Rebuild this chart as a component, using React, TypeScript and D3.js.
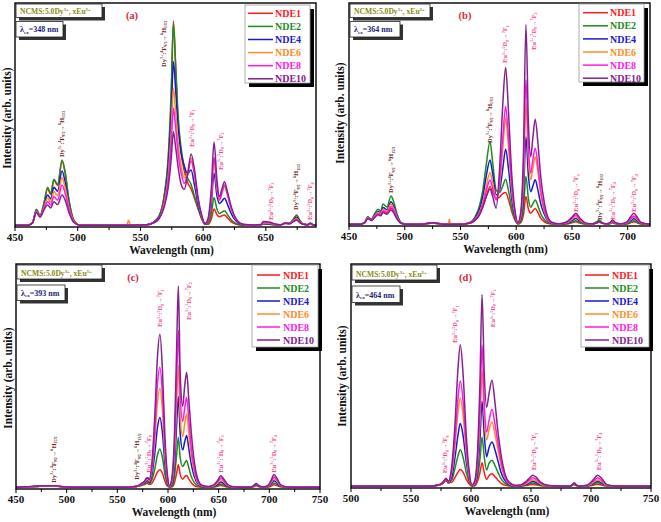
import React from 'react';
import * as d3 from 'd3';

const NAMES = ['NDE1', 'NDE2', 'NDE4', 'NDE6', 'NDE8', 'NDE10'];
const COLORS = ['#ff1a1a', '#1e8c1e', '#1a1acd', '#ff8c26', '#ff1ae6', '#85218f'];

// ---------- panel (a) λex = 348 nm ----------
const WL_A = [450, 460, 464, 467, 470, 473, 476, 478.5, 481, 484, 487.5, 490, 493, 497, 502, 520, 539, 540.5, 542, 555, 560, 565, 569, 572, 574.5, 576.3, 578, 580, 582.5, 585, 587.5, 590.4, 593, 596, 599, 601.5, 604, 606.5, 608.7, 611, 613, 615, 617, 619.5, 622, 625, 628, 632, 640, 646, 648, 652.5, 657, 662, 665.5, 669, 672, 674.5, 677, 680, 683, 685.5, 688, 690];
const A_NDE1 = [0.8, 0.8, 2.0, 7.5, 5.0, 10, 17, 14.5, 21, 18.5, 29.5, 24, 12, 3, 0.8, 0.8, 0.8, 0.8, 0.8, 1, 2, 5, 14, 28, 55, 92, 72, 48, 33, 25, 20, 17, 13, 8, 3.5, 1.2, 1.2, 3.5, 8, 5.5, 4.6, 5, 5.4, 4, 2.5, 1.5, 1, 0.8, 0.8, 0.9, 1.3, 1.2, 1, 1, 1.8, 1.6, 3.5, 5.4, 3, 1.2, 1, 1.2, 0.9, 0.8];
const A_NDE2 = [0.8, 0.8, 2.0, 7.9, 5.2, 10.5, 17.7, 15, 21.3, 19, 29.9, 24.5, 12, 3, 0.8, 0.8, 0.8, 0.8, 0.8, 1, 2, 5, 14, 30, 60, 91, 74, 50, 35, 27, 22, 19, 14, 8.5, 3.5, 1.2, 1.5, 5.5, 13.2, 8, 6, 6.6, 7.3, 5.5, 3.5, 2, 1.2, 0.8, 0.8, 0.9, 1.4, 1.3, 1, 1, 1.9, 1.7, 3.6, 5.3, 3, 1.2, 1, 1.3, 0.9, 0.8];
const A_NDE4 = [0.8, 0.8, 1.9, 7.3, 5, 9, 14.3, 12.5, 17.7, 16, 25, 20, 10, 2.5, 0.8, 0.8, 0.8, 0.8, 0.8, 1, 2, 4.5, 12, 26, 50, 73.8, 62, 45, 33, 27, 24, 25.4, 19, 10, 4, 1.3, 2.5, 10, 24, 14, 10.5, 11.5, 12.8, 10, 6.5, 3.5, 1.8, 1, 0.8, 1, 1.6, 1.5, 1.1, 1, 1.9, 1.7, 3, 4.3, 2.5, 1.2, 1, 1.4, 0.9, 0.8];
const A_NDE6 = [0.8, 0.8, 1.8, 7, 4.8, 8.5, 12.8, 11, 15.8, 14, 22, 17.5, 9, 2.5, 0.8, 0.8, 0.8, 3, 0.8, 1, 1.8, 4, 11, 22, 42, 61.9, 52, 38, 27, 22, 24, 30.7, 24, 12, 4.5, 1.4, 3, 13, 30, 17, 12, 15, 18, 14, 9, 4.5, 2.2, 1.1, 0.8, 1, 1.8, 1.7, 1.2, 1, 1.8, 1.6, 2.8, 3.8, 2.3, 1.2, 1, 1.5, 0.9, 0.8];
const A_NDE8 = [0.8, 0.8, 1.8, 6.8, 4.6, 8, 11.3, 9.8, 13.5, 12, 18.7, 15, 8, 2.2, 0.8, 0.8, 0.8, 0.8, 0.8, 1, 1.8, 4, 10, 20, 37, 53, 45, 33, 24, 19.5, 23, 29.5, 24, 12, 4.5, 1.4, 3.2, 14, 31, 18, 12, 15.5, 18.8, 14.5, 9, 4.5, 2.2, 1.1, 0.8, 1, 2, 1.9, 1.3, 1, 1.7, 1.5, 2.6, 3.4, 2.1, 1.2, 1, 1.6, 0.9, 0.8];
const A_NDE10 = [0.8, 0.8, 1.7, 6.5, 4.4, 7.5, 9.8, 8.5, 11.3, 10, 14.3, 12, 6.5, 2, 0.8, 0.8, 0.8, 0.8, 0.8, 1, 1.7, 3.8, 9, 17, 30, 42.5, 36, 27, 19, 16.8, 23, 32.6, 26, 13, 5, 1.5, 4, 17, 38, 21, 13.5, 17, 20.2, 15.5, 10, 5, 2.4, 1.2, 0.9, 1.1, 2.4, 2.2, 1.4, 1, 1.6, 1.4, 2.4, 3.1, 2, 1.2, 1, 1.8, 0.9, 0.8];

// ---------- panel (b) λex = 364 nm ----------
const WL_B = [450, 460, 464, 467, 470, 473, 476, 478.5, 480.5, 484, 487.7, 490, 493, 497, 502, 515, 525, 535, 539, 540, 541, 550, 558, 563, 567, 570, 573, 576.5, 579, 582, 585, 588, 590.5, 593, 596, 599, 601.5, 604, 606.5, 608.7, 611, 613, 615, 617, 619.5, 622, 625, 628, 632, 638, 645, 650, 653.5, 657, 662, 668, 672, 674.5, 677, 681, 684, 686.5, 689, 694, 699, 702.5, 705.5, 708.5, 712, 720];
const B_NDE1 = [0.8, 0.8, 1.5, 3.5, 2.5, 4, 5.5, 5, 6.5, 5.5, 8, 6.5, 3.5, 1.2, 0.8, 0.8, 1.4, 0.8, 0.8, 0.8, 0.8, 0.8, 1.2, 2.5, 5, 8.5, 13, 17.6, 15, 12.5, 13, 14.5, 15, 12, 6.5, 2.5, 0.9, 1.5, 5, 13.2, 7.5, 5.7, 6.8, 7.9, 6, 3.5, 2, 1.2, 0.9, 0.8, 0.9, 1.4, 1.9, 1.3, 0.9, 0.9, 1.3, 1.8, 1.2, 0.9, 1, 1.5, 1, 0.8, 0.9, 1.4, 1.9, 1.4, 0.9, 0.8];
const B_NDE2 = [0.8, 0.8, 1.7, 4.2, 3, 5.5, 7.5, 6.8, 9.9, 8.5, 13.5, 11, 5.5, 1.5, 0.8, 0.8, 1.4, 0.8, 0.8, 0.8, 0.8, 0.8, 1.5, 4, 9, 16, 27, 37.9, 28, 16, 15, 18, 21, 16, 8, 3, 1, 2, 8, 22.2, 12, 8.4, 10, 11.7, 9, 5.5, 3, 1.6, 1, 0.8, 1, 1.7, 2.4, 1.6, 1, 1, 1.8, 2.7, 1.6, 1, 1, 1.7, 1.1, 0.8, 1, 1.7, 2.4, 1.7, 1, 0.8];
const B_NDE4 = [0.8, 0.8, 1.6, 4, 2.8, 5, 6.5, 6, 8.3, 7.3, 10.9, 9, 4.5, 1.3, 0.8, 0.8, 1.4, 0.8, 0.8, 0.8, 0.8, 0.8, 1.4, 3.5, 7.5, 13, 22, 29.6, 23, 14, 16, 26, 34.4, 26, 12, 4, 1.2, 3, 14, 40, 22, 15.4, 18, 20.7, 16, 10, 5.5, 2.5, 1.2, 0.9, 1.2, 2.4, 3.4, 2.2, 1.1, 0.9, 1.4, 2, 1.3, 1, 1.1, 2, 1.2, 0.9, 1.2, 2.3, 3.3, 2.3, 1.2, 0.8];
const B_NDE6 = [0.8, 0.8, 1.5, 3.8, 2.7, 4.5, 6, 5.5, 7.5, 6.5, 9.9, 8, 4, 1.2, 0.8, 0.8, 1.4, 0.8, 0.8, 3, 0.8, 0.8, 1.3, 3, 6, 10.5, 17.5, 23.9, 19, 12, 18, 35, 48.4, 36, 16, 5, 1.3, 4, 20, 55, 30, 20.7, 26, 31, 24, 14, 7, 3, 1.3, 0.9, 1.4, 3, 4.2, 2.7, 1.2, 0.9, 1.3, 1.9, 1.3, 1, 1.2, 2.2, 1.3, 0.9, 1.4, 2.8, 4, 2.8, 1.3, 0.8];
const B_NDE8 = [0.8, 0.8, 1.5, 3.6, 2.6, 4.2, 5.5, 5, 6.8, 6, 8.7, 7.2, 3.8, 1.2, 0.8, 0.8, 1.4, 0.8, 0.8, 0.8, 0.8, 0.8, 1.3, 2.8, 5.5, 9.5, 15.5, 20.6, 16.5, 11.7, 20, 40, 53.6, 40, 18, 5.5, 1.4, 5, 25, 65.6, 35, 23.7, 30, 34.9, 27, 16, 8, 3.3, 1.4, 0.9, 1.5, 3.5, 4.9, 3.1, 1.3, 0.9, 1.3, 1.9, 1.3, 1, 1.3, 2.4, 1.4, 0.9, 1.5, 3.1, 4.5, 3.1, 1.4, 0.8];
const B_NDE10 = [0.8, 0.8, 1.4, 3.4, 2.5, 3.8, 5, 4.6, 6, 5.3, 7.2, 6, 3.2, 1.1, 0.8, 0.8, 1.5, 0.8, 0.8, 0.8, 0.8, 0.8, 1.2, 2.5, 5, 8.5, 13, 16.5, 13, 8, 25, 55, 71.2, 52, 23, 6.5, 1.5, 6, 33, 90.3, 45, 31.1, 40, 47.9, 37, 22, 11, 4.5, 1.7, 1, 1.8, 4, 5.7, 3.6, 1.4, 1, 1.4, 2, 1.3, 1, 1.5, 2.7, 1.5, 1, 1.7, 4, 5.7, 4, 1.6, 0.8];

// ---------- panel (c) λex = 393 nm ----------
const WL_C = [450, 460, 470, 480, 488, 495, 505, 520, 540, 560, 568, 572, 575, 577, 578.5, 580, 581.5, 584, 587, 589.5, 592, 594.5, 597, 599.5, 601.5, 604, 606.5, 608.5, 610.2, 612, 614.5, 616.5, 618.4, 620.5, 623, 626, 629, 633, 640, 645, 649, 652, 655, 659, 665, 675, 682, 685, 687, 689, 693, 698, 701.5, 704.6, 707.5, 711, 718, 730, 750];
const C_NDE1 = [0.8, 0.9, 1.1, 1.3, 1.3, 1, 0.8, 0.8, 0.8, 0.8, 1, 1.3, 1.8, 2, 2.5, 2.5, 2, 2.5, 5, 7.5, 8.6, 7, 3.5, 1.2, 0.8, 1, 3, 7, 10.8, 6.5, 4.4, 5.5, 6, 4.5, 2.8, 1.5, 1, 0.8, 0.8, 0.9, 1.2, 1.6, 1.3, 0.9, 0.8, 0.8, 0.8, 1.1, 1.5, 1.1, 0.8, 0.8, 1.2, 1.9, 1.5, 1, 0.8, 0.8, 0.8];
const C_NDE2 = [0.8, 0.9, 1.1, 1.4, 1.4, 1, 0.8, 0.8, 0.8, 0.8, 1, 1.4, 2, 2.3, 3, 3, 2.5, 4, 9, 15, 17.8, 14, 6.5, 2, 0.9, 1.5, 6, 15, 23, 14, 10, 11.5, 12.7, 9.5, 5.5, 2.8, 1.5, 1, 0.8, 1, 1.5, 2.2, 1.8, 1, 0.8, 0.8, 0.8, 1.3, 2, 1.3, 0.8, 0.9, 1.6, 2.7, 2, 1.1, 0.8, 0.8, 0.8];
const C_NDE4 = [0.8, 0.9, 1.1, 1.4, 1.4, 1, 0.8, 0.8, 0.8, 0.8, 1.1, 1.5, 2.3, 2.8, 3.5, 3.8, 3, 6, 16, 27, 31.8, 25, 11, 3, 1, 2.5, 11, 28, 41.1, 25, 17.4, 21, 23.8, 18, 11, 5.5, 2.5, 1.2, 0.9, 1.2, 2, 3.1, 2.5, 1.2, 0.8, 0.8, 0.8, 1.5, 2.2, 1.5, 0.9, 1, 2.2, 3.7, 2.8, 1.3, 0.8, 0.8, 0.8];
const C_NDE6 = [0.8, 0.9, 1.1, 1.3, 1.3, 1, 0.8, 0.8, 0.8, 0.8, 1.1, 1.6, 2.5, 3.2, 4, 4.3, 3.5, 8, 22, 38, 44.8, 35, 15, 4, 1.1, 3.5, 16, 38, 55, 33, 23.3, 29, 33.4, 25, 15, 7.5, 3.2, 1.4, 1, 1.4, 2.6, 4.1, 3.2, 1.5, 0.9, 0.8, 0.8, 1.6, 2.3, 1.6, 0.9, 1.1, 2.7, 4.6, 3.4, 1.5, 0.9, 0.8, 0.8];
const C_NDE8 = [0.8, 0.9, 1.2, 1.4, 1.4, 1, 0.8, 0.8, 0.8, 0.8, 1.1, 1.7, 2.7, 3.5, 4.5, 4.9, 4, 9, 26, 46, 54.1, 42, 18, 5, 1.2, 4.5, 20, 48, 70.5, 42, 30, 36, 40.8, 31, 18, 9, 3.8, 1.5, 1, 1.6, 3.2, 4.9, 3.8, 1.7, 0.9, 0.8, 0.8, 1.6, 2.3, 1.6, 0.9, 1.2, 3.1, 5.3, 4, 1.7, 0.9, 0.8, 0.8];
const C_NDE10 = [0.8, 1, 1.3, 1.5, 1.5, 1.1, 0.8, 0.8, 0.8, 0.8, 1.2, 1.8, 2.8, 3.6, 4.7, 5, 4.2, 11, 33, 58, 68.8, 53, 23, 6, 1.4, 5.5, 26, 62, 90.2, 52, 36.7, 46, 51.8, 40, 25, 12, 5, 1.8, 1.1, 1.8, 3.8, 5.9, 4.5, 2, 1, 0.8, 0.8, 1.7, 2.4, 1.7, 0.9, 1.3, 3.6, 6.4, 4.8, 2, 0.9, 0.8, 0.8];

// ---------- panel (d) λex = 464 nm ----------
const WL_D = [500, 520, 540, 560, 568, 572, 575, 577.5, 579.2, 581, 584, 586.5, 589, 591.1, 593.5, 596, 598.5, 600.8, 603, 605.5, 607.5, 609.2, 611, 613, 615, 617.5, 620, 622.5, 625, 628, 632, 637, 642, 646, 649, 651.4, 654, 658, 664, 675, 682, 684, 686, 688, 691, 697, 701.5, 705.5, 709, 713, 720, 735, 750];
const D_NDE1 = [0.8, 0.8, 0.8, 0.8, 0.9, 1.1, 1.5, 2.5, 3.5, 2.2, 2.5, 4.5, 7, 8.3, 7, 4, 1.8, 0.8, 1, 3, 7, 11.3, 7, 3.8, 5.5, 6.4, 5, 3.5, 2.2, 1.3, 0.9, 0.8, 0.9, 1.1, 1.4, 1.6, 1.4, 1, 0.8, 0.8, 0.8, 1, 1.5, 1, 0.8, 0.8, 1.2, 1.7, 1.3, 0.9, 0.8, 0.8, 0.8];
const D_NDE2 = [0.8, 0.8, 0.8, 0.8, 0.9, 1.2, 1.6, 2.7, 3.8, 2.4, 3.5, 8.5, 14, 17.1, 13.5, 7, 2.8, 0.9, 1.3, 5, 13, 22.8, 14, 8, 11, 12.4, 10, 7, 4.2, 2.2, 1.1, 0.8, 0.9, 1.3, 1.8, 2.2, 1.9, 1.2, 0.9, 0.8, 0.8, 1.1, 1.8, 1.1, 0.8, 0.9, 1.5, 2.3, 1.7, 1, 0.8, 0.8, 0.8];
const D_NDE4 = [0.8, 0.8, 0.8, 0.8, 0.9, 1.2, 1.7, 2.9, 4, 2.6, 5, 13, 23, 28.8, 23, 12, 4, 1, 1.6, 8, 22, 38.7, 24, 14, 18, 20.5, 17, 12, 7, 3.5, 1.4, 0.9, 1, 1.6, 2.4, 3, 2.6, 1.5, 1, 0.8, 0.8, 1.2, 2, 1.2, 0.8, 1, 1.9, 3, 2.2, 1.1, 0.8, 0.8, 0.8];
const D_NDE6 = [0.8, 0.8, 0.8, 0.8, 0.9, 1.2, 1.7, 3, 4.1, 2.8, 7, 18, 33, 40.2, 32, 16, 5, 1.1, 2, 11, 30, 52.6, 33, 21.5, 26, 29.5, 24, 17, 10, 5, 1.8, 1, 1.2, 2, 3, 3.7, 3.2, 1.8, 1, 0.8, 0.8, 1.2, 2.1, 1.3, 0.8, 1.1, 2.3, 3.7, 2.7, 1.2, 0.8, 0.8, 0.8];
const D_NDE8 = [0.8, 0.8, 0.8, 0.8, 0.9, 1.2, 1.8, 3.1, 4.2, 2.9, 8, 21, 39, 47.8, 38, 19, 6, 1.2, 2.3, 13, 36, 63.8, 38, 25, 30, 35.2, 28.5, 20, 12, 5.5, 2, 1, 1.3, 2.4, 3.7, 4.6, 4, 2.2, 1.1, 0.8, 0.8, 1.2, 2.1, 1.3, 0.8, 1.2, 2.8, 4.6, 3.3, 1.4, 0.8, 0.8, 0.8];
const D_NDE10 = [0.8, 0.8, 0.8, 0.8, 0.9, 1.3, 1.8, 3.2, 4.3, 3, 10, 27, 52, 64, 50, 24, 7.5, 1.3, 3, 17, 48, 86.4, 52, 36, 42, 48.1, 38, 25, 15, 7, 2.5, 1.2, 1.5, 3, 4.6, 5.7, 5, 2.6, 1.2, 0.8, 0.8, 1.3, 2.2, 1.3, 0.8, 1.3, 3.4, 5.7, 4.2, 1.6, 0.9, 0.8, 0.8];

// ---------- tick labels ----------
const TICKS_A = [450, 500, 550, 600, 650];
const TICKS_B = [450, 500, 550, 600, 650, 700];
const TICKS_C = [450, 500, 550, 600, 650, 700, 750];
const TICKS_D = [500, 550, 600, 650, 700, 750];
const EXCITATION = ['348', '364', '393', '464'];
const PANEL_LABELS = ['(a)', '(b)', '(c)', '(d)'];

type Seg = [string, string?];
const dyLabel = (lo: string): Seg[] => [['Dy'], ['3+', 'sup'], [':'], ['4', 'sup'], ['F'], ['9/2', 'sub'], ['→'], ['6', 'sup'], ['H'], [lo, 'sub']];
const euLabel = (j: string): Seg[] => [['Eu'], ['3+', 'sup'], [':'], ['5', 'sup'], ['D'], ['0', 'sub'], ['→'], ['7', 'sup'], ['F'], [j, 'sub']];

// annotations: [kind, level, wavelength, intensity at text foot]
const ANN_A: [string, string, number, number][] = [
  ['Dy', '15/2', 487.2, 31.2], ['Dy', '13/2', 568.3, 71.4], ['Eu', '1', 590.9, 35.7], ['Eu', '2', 614, 25.4],
  ['Eu', '3', 653.9, 3.1], ['Dy', '11/2', 674.1, 7.6], ['Eu', '4', 685.2, 3.1]];
const ANN_B: [string, string, number, number][] = [
  ['Dy', '15/2', 487.7, 14.8], ['Dy', '13/2', 575.8, 37.2], ['Eu', '1', 589.9, 73.1], ['Eu', '2', 615.3, 78.9],
  ['Eu', '3', 653.6, 6.3], ['Dy', '11/2', 674.5, 2.7], ['Eu', '4', 686.5, 2.7], ['Eu', '4', 705.6, 6.3]];
const ANN_C: [string, string, number, number][] = [
  ['Dy', '15/2', 486.8, 2.8], ['Dy', '13/2', 569.2, 4.1], ['Eu', '0', 580.9, 7.2], ['Eu', '1', 592.1, 72],
  ['Eu', '2', 620, 75.1], ['Eu', '3', 652, 7.2], ['Eu', '4', 704, 7.2]];
const ANN_D: [string, string, number, number][] = [
  ['Eu', '0', 578.3, 6.6], ['Eu', '1', 586.7, 64.7], ['Eu', '2', 618.1, 71.8], ['Eu', '3', 652.5, 7.9], ['Eu', '4', 706.1, 7.9]];

const FONT = '"Liberation Serif", "Times New Roman", serif';

function renderSegs(segs: Seg[], fs: number) {
  let cur = 0;
  return segs.map((s, i) => {
    const target = s[1] === 'sup' ? -fs * 0.38 : s[1] === 'sub' ? fs * 0.22 : 0;
    const dy = target - cur;
    cur = target;
    return (
      <tspan key={i} dy={dy} fontSize={s[1] ? fs * 0.62 : fs}>{s[0]}</tspan>
    );
  });
}

type Layout = {
  l: number; r: number; t: number; b: number; domain: [number, number]; minorEnd: number;
  legend: { x: number; y: number; w: number; h: number; row0: number; step: number; lx1: number; lx2: number; tx: number };
  box1: [number, number, number, number]; box2: [number, number, number, number];
  labelX: number; yTitleX: number; yTitleY: number;
};

const LAYOUTS: Layout[] = [
  { l: 15, r: 316, t: 3, b: 227, domain: [450, 690], minorEnd: 690,
    legend: { x: 245, y: 5, w: 65, h: 78, row0: 13.3, step: 13.1, lx1: 248, lx2: 273, tx: 275 },
    box1: [16, 4, 86, 13.5], box2: [16, 21.5, 47, 15.5], labelX: 132, yTitleX: 11, yTitleY: 118 },
  { l: 349, r: 650, t: 3, b: 226, domain: [450, 720], minorEnd: 720,
    legend: { x: 579, y: 4, w: 65, h: 78, row0: 12.7, step: 13.1, lx1: 583, lx2: 608, tx: 610 },
    box1: [350, 4, 80, 13.5], box2: [350, 21.5, 50, 15.5], labelX: 465, yTitleX: 344, yTitleY: 113 },
  { l: 16, r: 320, t: 264, b: 489, domain: [450, 750], minorEnd: 750,
    legend: { x: 252, y: 265, w: 66, h: 82, row0: 275, step: 13, lx1: 257, lx2: 280, tx: 283 },
    box1: [17, 265, 85, 14], box2: [17, 285, 48, 15.5], labelX: 133, yTitleX: 12, yTitleY: 378 },
  { l: 351, r: 651, t: 264, b: 488, domain: [500, 750], minorEnd: 750,
    legend: { x: 581, y: 265, w: 68, h: 82, row0: 275, step: 13, lx1: 585, lx2: 609, tx: 612 },
    box1: [352, 265, 85, 15], box2: [352, 286, 48, 16.5], labelX: 465.5, yTitleX: 345.5, yTitleY: 376 },
];

const PANELS = [
  { wl: WL_A, series: [A_NDE1, A_NDE2, A_NDE4, A_NDE6, A_NDE8, A_NDE10], ticks: TICKS_A, ann: ANN_A },
  { wl: WL_B, series: [B_NDE1, B_NDE2, B_NDE4, B_NDE6, B_NDE8, B_NDE10], ticks: TICKS_B, ann: ANN_B },
  { wl: WL_C, series: [C_NDE1, C_NDE2, C_NDE4, C_NDE6, C_NDE8, C_NDE10], ticks: TICKS_C, ann: ANN_C },
  { wl: WL_D, series: [D_NDE1, D_NDE2, D_NDE4, D_NDE6, D_NDE8, D_NDE10], ticks: TICKS_D, ann: ANN_D },
];

function Panel({ idx }: { idx: number }) {
  const L = LAYOUTS[idx];
  const P = PANELS[idx];
  const x = d3.scaleLinear().domain(L.domain).range([L.l, L.r]);
  const y = d3.scaleLinear().domain([0, 100]).range([L.b, L.t]);
  const line = d3.line<[number, number]>().x((d) => x(d[0])).y((d) => y(d[1])).curve(d3.curveMonotoneX);
  const minor = d3.range(L.domain[0], L.minorEnd + 0.01, 25);
  const clipId = `clip-${idx}`;
  const lg = L.legend;
  return (
    <g fontFamily={FONT} fontWeight="bold">
      <defs>
        <clipPath id={clipId}>
          <rect x={L.l} y={L.t} width={L.r - L.l} height={L.b - L.t} />
        </clipPath>
      </defs>
      <g clipPath={`url(#${clipId})`}>
        {P.series.map((s, i) => (
          <path key={i} d={line(P.wl.map((w, k) => [w, s[k]] as [number, number])) || ''}
            fill="none" stroke={COLORS[i]} strokeWidth={1.5} strokeLinejoin="round" />
        ))}
      </g>
      {/* annotations */}
      {P.ann.map((a, i) => {
        const fs = 6.5;
        const segs = a[0] === 'Dy' ? dyLabel(a[1]) : euLabel(a[1]);
        const cx = x(a[2]) + fs * 0.35;
        const cy = y(a[3]);
        return (
          <text key={i} transform={`translate(${cx},${cy}) rotate(-90)`} fontSize={fs}
            fill={a[0] === 'Dy' ? '#6e1e1e' : '#f0468c'}>
            {renderSegs(segs, fs)}
          </text>
        );
      })}
      {/* frame */}
      <rect x={L.l} y={L.t} width={L.r - L.l} height={L.b - L.t} fill="none" stroke="#000" strokeWidth={1.4} />
      {/* ticks */}
      {minor.map((t) => (
        <line key={t} x1={x(t)} x2={x(t)} y1={L.b} y2={L.b + (t % 50 === 0 ? 4 : 3)} stroke="#000" strokeWidth={1} />
      ))}
      {P.ticks.map((t) => (
        <text key={t} x={x(t)} y={L.b + 13.5} fontSize={11} textAnchor="middle" fill="#111">{t}</text>
      ))}
      <text x={(L.l + L.r) / 2 + 6} y={L.b + 26.5} fontSize={11.5} textAnchor="middle" fill="#111">Wavelength (nm)</text>
      <text transform={`translate(${L.yTitleX},${L.yTitleY}) rotate(-90)`} fontSize={11.5} textAnchor="middle" fill="#111">
        Intensity (arb. units)
      </text>
      {/* info boxes */}
      <rect x={L.box1[0] + 3} y={L.box1[1] + 3} width={L.box1[2]} height={L.box1[3]} fill="#333" />
      <rect x={L.box1[0]} y={L.box1[1]} width={L.box1[2]} height={L.box1[3]} fill="#fff" stroke="#222" strokeWidth={0.8} />
      <text x={L.box1[0] + 4} y={L.box1[1] + L.box1[3] - 3.5} fontSize={7.6} fill="#8a8a14">
        {renderSegs([['NCMS:5.0Dy'], ['3+', 'sup'], [', xEu'], ['3+', 'sup']], 7.6)}
      </text>
      <rect x={L.box2[0] + 3} y={L.box2[1] + 3} width={L.box2[2]} height={L.box2[3]} fill="#333" />
      <rect x={L.box2[0]} y={L.box2[1]} width={L.box2[2]} height={L.box2[3]} fill="#fff" stroke="#222" strokeWidth={0.8} />
      <text x={L.box2[0] + 4} y={L.box2[1] + L.box2[3] - 5} fontSize={8} fill="#1c1c7a">
        {renderSegs([['λ'], ['ex', 'sub'], [`=${EXCITATION[idx]} nm`]], 8)}
      </text>
      {/* panel label */}
      <text x={L.labelX} y={L.t + (idx < 2 ? 16 : 17)} fontSize={10.5} textAnchor="middle" fill="#e0263c">{PANEL_LABELS[idx]}</text>
      {/* legend */}
      <rect x={lg.x + 4} y={lg.y + 4} width={lg.w} height={lg.h} fill="#000" />
      <rect x={lg.x} y={lg.y} width={lg.w} height={lg.h} fill="#fff" stroke="#999" strokeWidth={0.8} />
      {NAMES.map((n, i) => (
        <g key={n}>
          <line x1={lg.lx1} x2={lg.lx2} y1={lg.row0 + i * lg.step} y2={lg.row0 + i * lg.step} stroke={COLORS[i]} strokeWidth={1.5} />
          <text x={lg.tx} y={lg.row0 + i * lg.step + 3.6} fontSize={10} fill={COLORS[i]}>{n}</text>
        </g>
      ))}
    </g>
  );
}

export default function App() {
  return (
    <div style={{ position: 'absolute', left: 0, top: 0 }}>
      <svg width={661} height={522} style={{ display: 'block', background: '#fff' }}>
        {[0, 1, 2, 3].map((i) => <Panel key={i} idx={i} />)}
      </svg>
    </div>
  );
}
